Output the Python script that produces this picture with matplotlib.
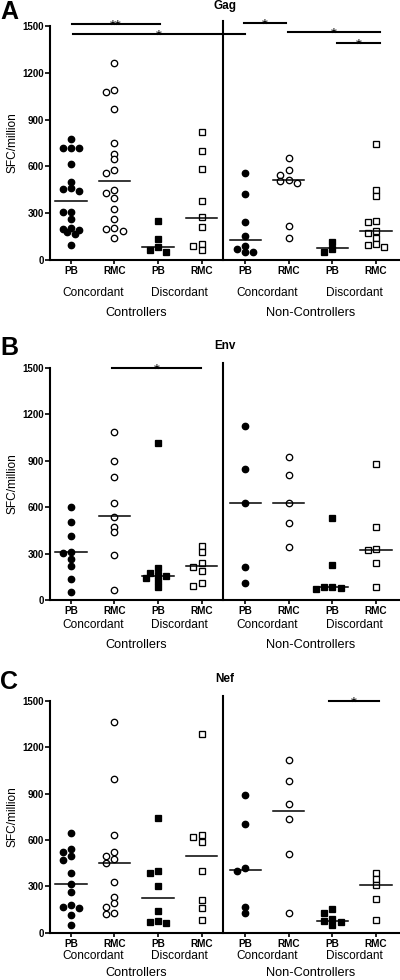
import numpy as np
import matplotlib
matplotlib.use("Agg")
import matplotlib.pyplot as plt

plt.rcParams['font.family'] = ['Liberation Sans', 'DejaVu Sans']

# Werte (SFC/million)
tick_labels = ["PB", "RMC", "PB", "RMC", "PB", "RMC", "PB", "RMC"]
pair_labels = ["Concordant", "Discordant", "Concordant", "Discordant"]
cohort_labels = ["Controllers", "Non-Controllers"]

gag_ctrl_conc_pb = [774, 716, 716, 716, 615, 502, 463, 453, 441, 310, 310, 263, 203, 200, 190, 177, 167, 96]
gag_ctrl_conc_rmc = [1265, 1090, 1079, 966, 752, 680, 645, 577, 560, 449, 427, 395, 325, 261, 207, 197, 186, 139]
gag_ctrl_disc_pb = [252, 132, 85, 64, 53]
gag_ctrl_disc_rmc = [818, 701, 583, 380, 274, 209, 102, 90, 64]
gag_nc_conc_pb = [560, 423, 241, 156, 92, 71, 53, 53]
gag_nc_conc_rmc = [652, 577, 545, 513, 506, 492, 220, 139]
gag_nc_disc_pb = [113, 71, 53]
gag_nc_disc_rmc = [742, 449, 410, 250, 241, 186, 171, 143, 100, 96, 83]
gag_medians = [378, 506, 85, 272, 130, 515, 75, 188]

env_ctrl_conc_pb = [598, 506, 413, 312, 301, 263, 220, 138, 54]
env_ctrl_conc_rmc = [1087, 900, 796, 624, 538, 473, 437, 291, 65]
env_ctrl_disc_pb = [1011, 205, 175, 160, 155, 145, 125, 85]
env_ctrl_disc_rmc = [349, 308, 241, 215, 189, 112, 92]
env_nc_conc_pb = [1123, 844, 624, 215, 108]
env_nc_conc_rmc = [921, 809, 624, 499, 344]
env_nc_disc_pb = [527, 226, 86, 82, 75, 71]
env_nc_disc_rmc = [876, 469, 329, 323, 237, 82]
env_medians = [308, 544, 157, 219, 624, 624, 82, 325]

nef_ctrl_conc_pb = [645, 540, 525, 495, 470, 385, 315, 265, 180, 165, 158, 115, 50]
nef_ctrl_conc_rmc = [1365, 993, 632, 524, 497, 475, 449, 330, 229, 194, 164, 126, 119]
nef_ctrl_disc_pb = [745, 399, 385, 304, 142, 78, 71, 61]
nef_ctrl_disc_rmc = [1286, 633, 618, 589, 401, 212, 162, 82]
nef_nc_conc_pb = [891, 704, 416, 401, 168, 125]
nef_nc_conc_rmc = [1118, 982, 831, 736, 509, 125]
nef_nc_disc_pb = [151, 129, 86, 78, 71, 50]
nef_nc_disc_rmc = [384, 345, 309, 218, 82]
nef_medians = [318, 449, 223, 499, 408, 788, 78, 309]

W, H = 400, 980
fig = plt.figure(figsize=(W / 100, H / 100), dpi=100)
fig.patch.set_facecolor("white")

MARKERS = [("o", "black"), ("o", "white"), ("s", "black"), ("s", "white")]
XLIM = (-0.48, 7.53)


def swarm(values, ypx, step=8.3, dist=5.0):
    # einfache Beeswarm-Anordnung in Pixeln
    cand = [0, -1, 1, -0.5, 0.5, -1.5, 1.5, -2, 2]
    vals = np.asarray(values, dtype=float)
    offs = np.zeros(len(vals))
    placed = []
    for i in np.argsort(-vals):
        y = vals[i] * ypx
        x = 0.0
        for k in cand:
            x = k * step
            if all((x - px) ** 2 + (y - py) ** 2 >= dist ** 2 for px, py in placed):
                break
        offs[i] = x
        placed.append((x, y))
    return offs


def panel(box, groups, medians, letter, title, letter_y, title_y, sig, off1, off2):
    left, top, right, bottom = box
    ax = fig.add_axes([left / W, 1 - bottom / H, (right - left) / W, (bottom - top) / H])
    ax.set_xlim(*XLIM)
    ax.set_ylim(0, 1500)
    xpx = (right - left) / (XLIM[1] - XLIM[0])
    ypx = (bottom - top) / 1500

    for i, vals in enumerate(groups):
        m, fc = MARKERS[i % 4]
        xs = i + swarm(vals, ypx) / xpx
        ax.plot(xs, vals, linestyle="none", marker=m, markersize=4.6 if m == "o" else 4.3,
                markerfacecolor=fc, markeredgecolor="black", markeredgewidth=0.95,
                clip_on=False, zorder=3)
        ax.plot([i - 0.36, i + 0.36], [medians[i], medians[i]], color="black",
                linewidth=1.1, zorder=4)

    ax.plot([3.5, 3.5], [0, 1530], color="black", linewidth=1.5, clip_on=False)

    for x1, x2, y, lab in sig:
        ax.plot([x1, x2], [y, y], color="black", linewidth=1.5, clip_on=False)
        ax.annotate(lab, ((x1 + x2) / 2, y), xytext=(0, -4.2), textcoords="offset points",
                    ha="center", va="baseline", fontsize=11, annotation_clip=False)

    ax.spines[["top", "right"]].set_visible(False)
    ax.spines[["left", "bottom"]].set_linewidth(1.5)
    ax.set_yticks([0, 300, 600, 900, 1200, 1500])
    ax.set_yticklabels(["0", "300", "600", "900", "1200", "1500"], fontsize=7, fontweight="bold")
    ax.set_xticks(range(8))
    ax.set_xticklabels(tick_labels, fontsize=7.2, fontweight="bold")
    ax.tick_params(axis="y", length=3.5, width=1.2, pad=1)
    ax.tick_params(axis="x", length=3, width=1.2, pad=1.5)

    for j, lab in enumerate(pair_labels):
        ax.annotate(lab, (2 * j + 0.5, 0), xycoords=("data", "axes fraction"),
                    xytext=(0, -off1), textcoords="offset points",
                    ha="center", va="center", fontsize=8.6)
    for j, lab in enumerate(cohort_labels):
        ax.annotate(lab, (4 * j + 1.5, 0), xycoords=("data", "axes fraction"),
                    xytext=(0, -off2), textcoords="offset points",
                    ha="center", va="center", fontsize=9.2)

    fig.text(12.7 / W, 1 - (top + bottom) / 2 / H, "SFC/million", rotation=90,
             ha="center", va="center", fontsize=8.6)
    fig.text(0, 1 - letter_y / H, letter, ha="left", va="center", fontsize=18, fontweight="bold")
    fig.text((left + right) / 2 / W, 1 - title_y / H, title, ha="center", va="center",
             fontsize=8.5, fontweight="bold")
    return ax


panel((50, 26, 399, 260),
      [gag_ctrl_conc_pb, gag_ctrl_conc_rmc, gag_ctrl_disc_pb, gag_ctrl_disc_rmc,
       gag_nc_conc_pb, gag_nc_conc_rmc, gag_nc_disc_pb, gag_nc_disc_rmc],
      gag_medians, "A", "Gag", 12, 6.5,
      [(0.02, 2.04, 1513, "**"), (0.05, 4.0, 1449, "*"), (3.97, 4.93, 1519, "*"),
       (4.98, 7.1, 1462, "*"), (6.1, 7.1, 1391, "*")],
      23.8, 38.2)

panel((50, 367.7, 399, 600),
      [env_ctrl_conc_pb, env_ctrl_conc_rmc, env_ctrl_disc_pb, env_ctrl_disc_rmc,
       env_nc_conc_pb, env_nc_conc_rmc, env_nc_disc_pb, env_nc_disc_rmc],
      env_medians, "B", "Env", 348, 346,
      [(0.94, 2.99, 1500, "*")],
      18, 32.4)

panel((50, 701, 399, 932.7),
      [nef_ctrl_conc_pb, nef_ctrl_conc_rmc, nef_ctrl_disc_pb, nef_ctrl_disc_rmc,
       nef_nc_conc_pb, nef_nc_conc_rmc, nef_nc_disc_pb, nef_nc_disc_rmc],
      nef_medians, "C", "Nef", 682, 679,
      [(5.92, 7.08, 1500, "*")],
      16.8, 29.2)

fig.savefig("out.png", dpi=100)
